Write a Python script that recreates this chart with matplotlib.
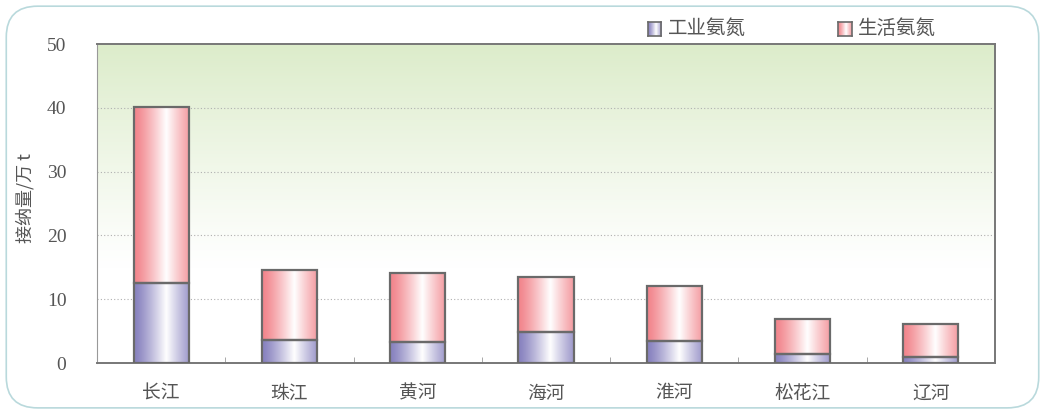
import numpy as np
import matplotlib.pyplot as plt
from matplotlib.patches import FancyBboxPatch, Rectangle
from matplotlib.colors import to_rgb

# Data
rivers = ['长江', '珠江', '黄河', '海河', '淮河', '松花江', '辽河']
industrial = [12.5, 3.6, 3.3, 4.9, 3.5, 1.4, 1.0]
domestic_total = [40.1, 14.6, 14.1, 13.5, 12.1, 6.9, 6.1]
domestic = [t - i for t, i in zip(domestic_total, industrial)]
series_names = ['工业氨氮', '生活氨氮']
yticks = [0, 10, 20, 30, 40, 50]

IND_COLOR = '#8a84c0'
DOM_COLOR = '#f2878e'
EDGE = '#6a6a6a'
CJK = ['Noto Sans CJK SC', 'DejaVu Sans']
NUM = ['Liberation Serif', 'DejaVu Serif']


def bar_gradient(color, n=64):
    c = np.array(to_rgb(color))
    x = np.linspace(0, 1, n)
    # white peak slightly right of centre
    w = np.clip(1 - np.abs(x - 0.58) / 0.55, 0, 1) ** 1.2
    img = c[None, :] * (1 - w[:, None]) + np.ones(3)[None, :] * w[:, None]
    return img[None, :, :]


fig = plt.figure(figsize=(10.45, 4.12), dpi=100)
fig.patch.set_facecolor('white')

# rounded outer border
border = FancyBboxPatch((0.006, 0.01), 0.988, 0.975,
                        boxstyle='round,pad=0,rounding_size=0.03',
                        transform=fig.transFigure, facecolor='none',
                        edgecolor='#b9d9dc', lw=1.2, mutation_aspect=2.5)
fig.patches.append(border)

ax = fig.add_axes([0.0928, 0.1189, 0.8593, 0.7743])

# background gradient (green at top fading to white)
top = np.array(to_rgb('#dcecca'))
t = np.linspace(0, 1, 200)
fade = np.clip((t - 0.3) / 0.7, 0, 1) ** 1.1
bg = np.ones((200, 1, 3)) * (1 - fade[:, None, None]) + top[None, None, :] * fade[:, None, None]
ax.imshow(bg, extent=(0, 1, 0, 1), transform=ax.transAxes, aspect='auto',
          origin='lower', zorder=0)

x = np.arange(len(rivers))
width = 0.43
for xi, ind, dom in zip(x, industrial, domestic):
    x0, x1 = xi - width / 2, xi + width / 2
    ax.imshow(bar_gradient(IND_COLOR), extent=(x0, x1, 0, ind), aspect='auto', zorder=2)
    ax.add_patch(Rectangle((x0, 0), width, ind, fill=False, edgecolor=EDGE, lw=1.6, zorder=3))
    ax.imshow(bar_gradient(DOM_COLOR), extent=(x0, x1, ind, ind + dom), aspect='auto', zorder=2)
    ax.add_patch(Rectangle((x0, ind), width, dom, fill=False, edgecolor=EDGE, lw=1.6, zorder=3))

ax.set_xlim(-0.5, len(rivers) - 0.5)
ax.set_ylim(0, 50)

ax.set_yticks(yticks)
ax.set_yticklabels([str(v) for v in yticks], family=NUM, fontsize=14, color='#555555')
ax.tick_params(axis='y', length=0, pad=22)
ax.set_xticks(x)
ax.set_xticklabels(rivers, family=CJK, fontsize=13.5, color='#555555')
ax.tick_params(axis='x', length=0, pad=14)
ax.set_xticks(np.arange(0.5, len(rivers) - 0.5), minor=True)
ax.tick_params(axis='x', which='minor', direction='in', length=4, color='#999999')

for v in yticks[1:-1]:
    ax.axhline(v, color='#b0b0b0', lw=0.8, ls=(0, (1, 2)), zorder=1)

for s in ax.spines.values():
    s.set_color('#777777')
    s.set_linewidth(1.4)
ax.spines['left'].set_color('#999999')
ax.spines['left'].set_linewidth(0.8)

fig.text(0.024, 0.52, '接纳量/万 t', rotation=90, family=CJK, fontsize=13,
         color='#555555', ha='center', va='center')

# legend with gradient swatches
for (lx, name, color) in [(0.620, series_names[0], IND_COLOR), (0.802, series_names[1], DOM_COLOR)]:
    sw = fig.add_axes([lx, 0.912, 0.013, 0.034])
    sw.imshow(bar_gradient(color), aspect='auto')
    sw.set_xticks([])
    sw.set_yticks([])
    for s in sw.spines.values():
        s.set_color(EDGE)
        s.set_linewidth(1.2)
    fig.text(lx + 0.019, 0.930, name, family=CJK, fontsize=14, color='#555555',
             ha='left', va='center')

fig.savefig('out.png', dpi=100)
